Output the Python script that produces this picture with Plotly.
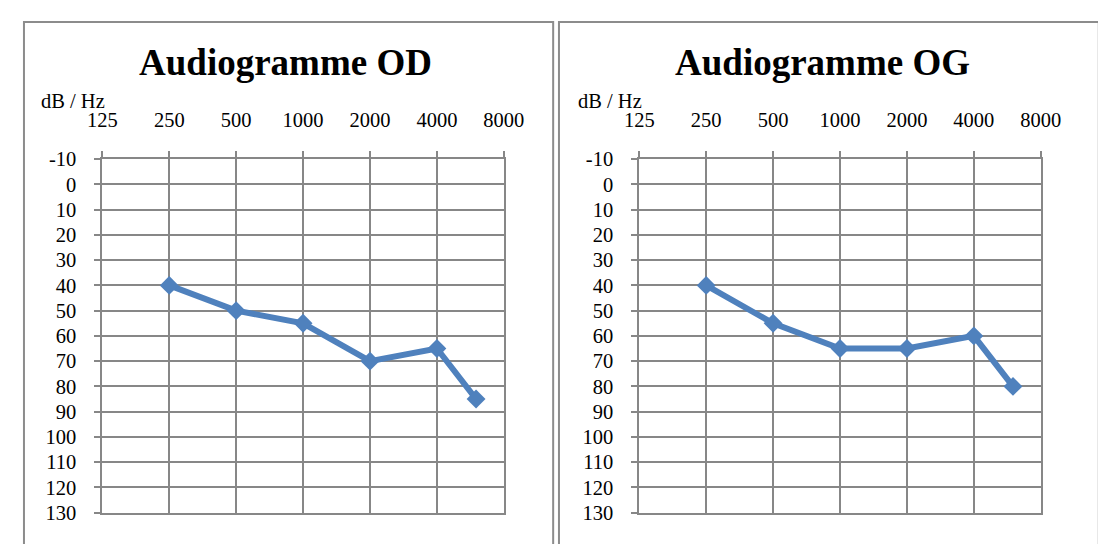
"""
Audiogrammes OD / OG
Two side-by-side hearing threshold charts (dB HL vs frequency).
"""

import math
import plotly.graph_objects as go

W, H = 1106, 544
OFFSET = 8  # the page body adds an 8px margin around the figure

# frequencies shown on the top axis
freq_ticks = [125, 250, 500, 1000, 2000, 4000, 8000]
db_ticks = list(range(-10, 140, 10))

# measured thresholds
freq_od = [250, 500, 1000, 2000, 4000, 6000]
db_od = [40, 50, 55, 70, 65, 85]

freq_og = [250, 500, 1000, 2000, 4000, 6000]
db_og = [40, 55, 65, 65, 60, 80]

titles = ["Audiogramme OD", "Audiogramme OG"]

GRID = "#878787"
FRAME = "#8c8c8c"
BLUE = "#4F81BD"
FONT = "Liberation Serif, Times New Roman, serif"


# helpers: page pixel -> paper coordinate
def px_x(v):
    return (v - OFFSET) / W


def px_y(v):
    return 1 - (v - OFFSET) / H


fig = go.Figure()

# page pixel boxes of each panel: (frame left, frame right, plot left, plot right)
panels = [
    (9, 556, 90, 505),
    (562, 1120, 645, 1060),
]
plot_top, plot_bottom = 154, 522.5

for i, (series_f, series_db) in enumerate([(freq_od, db_od), (freq_og, db_og)]):
    n = "" if i == 0 else str(i + 1)
    frame_l, frame_r, pl, pr = panels[i]
    shift = i * 555

    fig.add_trace(go.Scatter(
        x=series_f, y=series_db, mode="lines+markers",
        line=dict(color=BLUE, width=6),
        marker=dict(symbol="diamond", size=14.5, color=BLUE),
        xaxis="x" + n, yaxis="y" + n, showlegend=False,
        hoverinfo="x+y",
    ))

    fig.update_layout(**{
        "xaxis" + n: dict(
            type="log", side="top",
            range=[math.log10(freq_ticks[0]), math.log10(freq_ticks[-1])],
            domain=[px_x(pl), px_x(pr)],
            anchor="y" + n,
            tickvals=freq_ticks, ticktext=[str(f) for f in freq_ticks],
            showgrid=True, gridcolor=GRID, gridwidth=2,
            showline=True, linecolor=GRID, linewidth=2, mirror=True,
            ticks="outside", ticklen=6, tickwidth=2, tickcolor=GRID,
            ticklabelstandoff=16,
            tickfont=dict(family=FONT, size=20.5, color="black"),
            zeroline=False, fixedrange=True,
        ),
        "yaxis" + n: dict(
            range=[db_ticks[-1], db_ticks[0]],
            domain=[px_y(plot_bottom), px_y(plot_top)],
            anchor="x" + n,
            tickvals=db_ticks, ticktext=[str(d) for d in db_ticks],
            showgrid=True, gridcolor=GRID, gridwidth=2,
            showline=True, linecolor=GRID, linewidth=2, mirror=True,
            ticks="outside", ticklen=6, tickwidth=2, tickcolor=GRID,
            ticklabelstandoff=14,
            tickfont=dict(family=FONT, size=20.5, color="black"),
            zeroline=False, fixedrange=True,
        ),
    })

    # panel frame
    fig.add_shape(type="rect", xref="paper", yref="paper",
                  x0=px_x(frame_l), x1=px_x(frame_r), y0=px_y(600), y1=px_y(11),
                  line=dict(color=FRAME, width=2), fillcolor="rgba(0,0,0,0)")

    # title
    fig.add_annotation(text="<b>" + titles[i] + "</b>", xref="paper", yref="paper",
                       x=px_x(279.5 + shift), y=px_y(53),
                       showarrow=False, xanchor="center", yanchor="middle",
                       font=dict(family=FONT, size=37, color="black"))

    # unit label above the value axis
    fig.add_annotation(text="dB / Hz", xref="paper", yref="paper",
                       x=px_x(25 + shift), y=px_y(93),
                       showarrow=False, xanchor="left", yanchor="middle",
                       font=dict(family=FONT, size=20.5, color="black"))

fig.update_layout(
    width=W, height=H,
    margin=dict(l=0, r=0, t=0, b=0),
    paper_bgcolor="white", plot_bgcolor="white",
)

fig.write_html("out.html")
